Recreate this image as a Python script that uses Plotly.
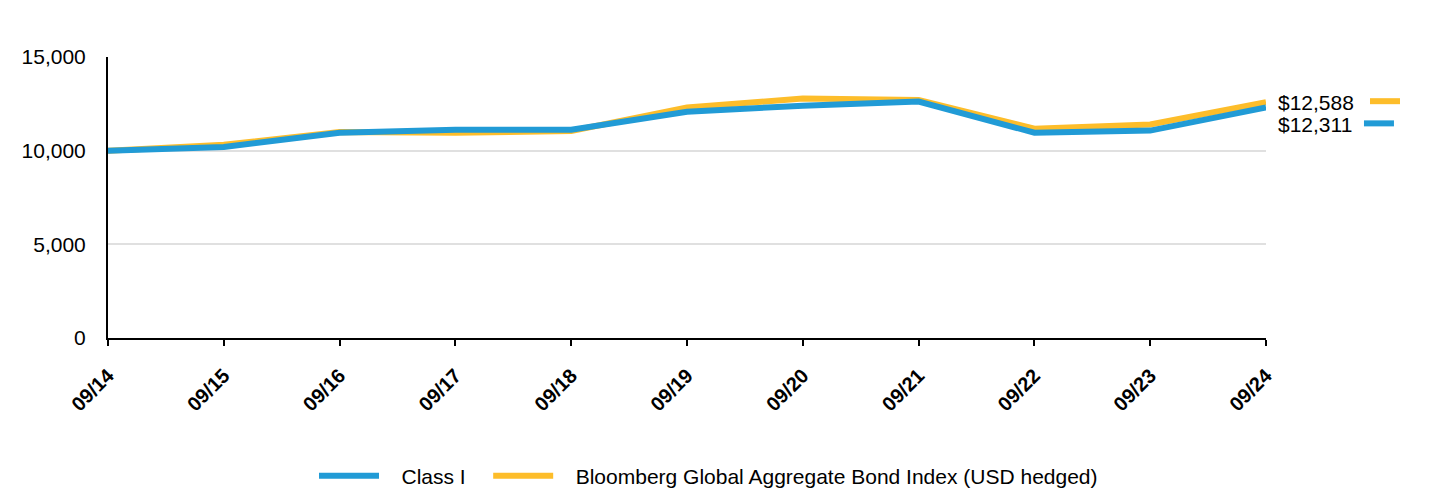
import plotly.graph_objects as go

dates = ["09/14", "09/15", "09/16", "09/17", "09/18", "09/19", "09/20", "09/21", "09/22", "09/23", "09/24"]
class_i = [10000, 10200, 10960, 11120, 11120, 12080, 12400, 12620, 10960, 11070, 12311]
bloomberg = [10000, 10320, 10990, 10950, 11050, 12300, 12780, 12700, 11170, 11400, 12588]
y_ticks = [0, 5000, 10000, 15000]

BLUE = "#219bd6"
GOLD = "#fdbd2a"
FONT = "Liberation Sans, Arial, sans-serif"
NB = "\u00a0"

fig = go.Figure()
fig.add_trace(go.Scatter(x=dates, y=bloomberg, mode="lines",
                         name=NB * 3 + "Bloomberg Global Aggregate Bond Index (USD hedged)",
                         line=dict(color=GOLD, width=6)))
fig.add_trace(go.Scatter(x=dates, y=class_i, mode="lines", name=NB * 3 + "Class I" + NB * 3,
                         line=dict(color=BLUE, width=6)))

# end labels
fig.add_annotation(x=1, xref="paper", y=bloomberg[-1], yref="y", text="$" + f"{bloomberg[-1]:,}",
                   xanchor="left", xshift=10, yshift=0, showarrow=False,
                   font=dict(size=21, color="#000", family=FONT))
fig.add_annotation(x=1, xref="paper", y=class_i[-1], yref="y", text="$" + f"{class_i[-1]:,}",
                   xanchor="left", xshift=10, yshift=-17, showarrow=False,
                   font=dict(size=21, color="#000", family=FONT))
fig.add_shape(type="line", xref="paper", x0=1.0898, x1=1.1157, yref="y", ysizemode="pixel",
              yanchor=bloomberg[-1], y0=1, y1=1, line=dict(color=GOLD, width=6))
fig.add_shape(type="line", xref="paper", x0=1.0846, x1=1.1105, yref="y", ysizemode="pixel",
              yanchor=class_i[-1], y0=-16, y1=-16, line=dict(color=BLUE, width=6))

fig.update_layout(
    width=1440, height=492,
    margin=dict(l=108, r=174, t=57, b=154, autoexpand=False),
    plot_bgcolor="white", paper_bgcolor="white",
    font=dict(family=FONT, size=20, color="#000"),
    showlegend=True,
    legend=dict(orientation="h", x=0.5 - 11.5 / 1440, xref="container", xanchor="center",
                y=1 - 476 / 492, yref="container", yanchor="middle",
                traceorder="reversed", font=dict(size=21), itemwidth=60),
)
fig.update_xaxes(type="category", range=[0, 10], showline=True, linecolor="#000", linewidth=2,
                 ticks="outside", ticklen=6, tickcolor="#000", tickwidth=2, tickangle=-45,
                 ticklabelstandoff=10,
                 tickfont=dict(size=20, family=FONT, weight="bold"), showgrid=False, zeroline=False)
fig.update_yaxes(range=[0, 15000], tickvals=y_ticks, tickformat=",", showline=True, linecolor="#000",
                 linewidth=2, showgrid=True, gridcolor="#e0e0e0", gridwidth=2, zeroline=False,
                 ticks="", ticklabelstandoff=16, tickfont=dict(size=21))

fig.write_html("out.html", config={"displayModeBar": False},
               post_script="document.body.style.margin='0';")
